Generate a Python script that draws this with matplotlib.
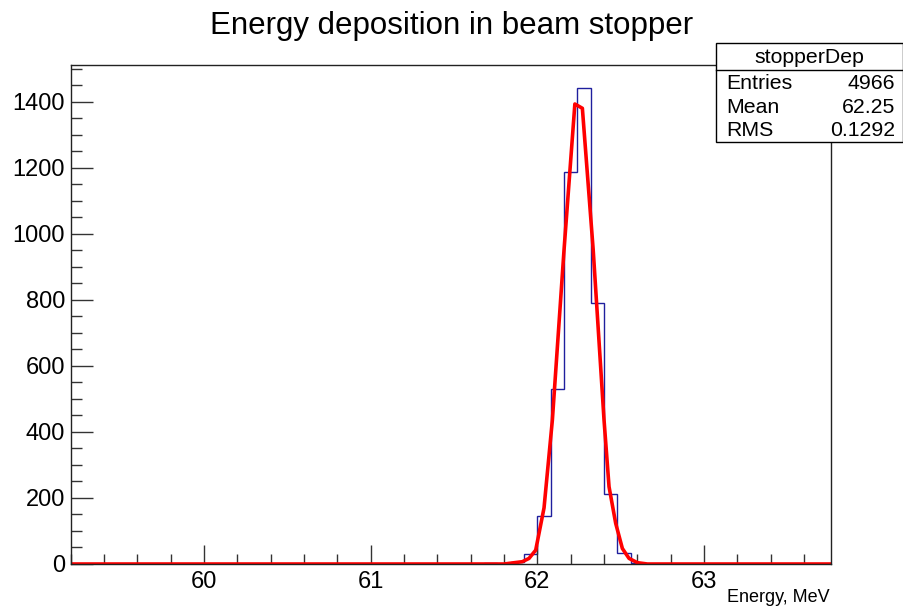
import matplotlib
matplotlib.use("Agg")
import matplotlib.pyplot as plt
import numpy as np

plt.rcParams['font.family'] = ['Liberation Sans', 'DejaVu Sans']

# histogram: 0.08 MeV bins from 59.2 to 63.76
x_lo, x_hi, bin_w = 59.2, 63.76, 0.08
# non-empty bins start at 61.68
first_bin = 61.68
counts_nonzero = [2, 0, 7, 29, 145, 529, 1188, 1440, 789, 212, 34, 3]

# red fit curve
fit_x = [59.2, 61.8, 61.91, 61.95, 61.99, 62.04, 62.09, 62.16, 62.225, 62.27,
         62.335, 62.40, 62.43, 62.47, 62.51, 62.55, 62.60, 62.66, 63.76]
fit_y = [0, 0, 7, 17, 42, 170, 436, 951, 1393, 1380,
         951, 436, 234, 123, 47, 17, 4, 0, 0]

hist_name = 'stopperDep'
stats_labels = ['Entries', 'Mean', 'RMS']
stats_values = ['4966', '62.25', '0.1292']

edges = np.round(np.arange(x_lo, x_hi + bin_w / 2, bin_w), 4)
counts = np.zeros(len(edges) - 1)
i0 = int(round((first_bin - x_lo) / bin_w))
counts[i0:i0 + len(counts_nonzero)] = counts_nonzero

W, H = 904, 607
fig = plt.figure(figsize=(W / 100, H / 100), dpi=100)
ax = fig.add_axes([70.7 / W, 1 - 564 / H, 760 / W, (564 - 64.7) / H])

ax.stairs(counts, edges, color='#1f1f9e', linewidth=1.0, baseline=0)
ax.plot(fit_x, fit_y, color='#ff0000', linewidth=2.6)

ax.set_xlim(x_lo, x_hi)
ax.set_ylim(0, 1512)
ax.set_xticks([60, 61, 62, 63])
ax.set_xticks(np.arange(59.2, 63.8, 0.2), minor=True)
ax.set_yticks(np.arange(0, 1401, 200))
ax.set_yticks(np.arange(0, 1512, 50), minor=True)
ax.tick_params(which='both', direction='in', top=False, right=False,
               labelsize=17, width=1, color='#333333')
ax.tick_params(axis='x', which='major', length=14, pad=5)
ax.tick_params(axis='x', which='minor', length=7)
ax.tick_params(axis='y', which='major', length=16, pad=4)
ax.tick_params(axis='y', which='minor', length=8)
for s in ax.spines.values():
    s.set_linewidth(1.0)
    s.set_color('#222222')

fig.text(0.5, 1 - 34 / H, 'Energy deposition in beam stopper',
         ha='center', va='baseline', fontsize=22.5)
fig.text(830 / W, 1 - 602 / H, 'Energy, MeV', ha='right', va='baseline',
         fontsize=13)

# stats box
bx0, bx1 = 716 / W, 903 / W
by_top, by_div, by_bot = 1 - 43 / H, 1 - 69.5 / H, 1 - 142 / H
fig.patches.append(plt.Rectangle((bx0, by_bot), bx1 - bx0, by_top - by_bot,
                                 transform=fig.transFigure, facecolor='white',
                                 edgecolor='black', linewidth=1.0, zorder=5))
fig.lines.append(plt.Line2D([bx0, bx1], [by_div, by_div],
                            transform=fig.transFigure, color='black',
                            linewidth=1.0, zorder=6))
fig.text((bx0 + bx1) / 2, 1 - 63 / H, hist_name, ha='center', va='baseline',
         fontsize=15.3, zorder=7)
for k, (lab, val) in enumerate(zip(stats_labels, stats_values)):
    yb = 1 - (89 + 23.5 * k) / H
    fig.text(726 / W, yb, lab, ha='left', va='baseline', fontsize=15.3, zorder=7)
    fig.text(895 / W, yb, val, ha='right', va='baseline', fontsize=15.3, zorder=7)

fig.savefig('out.png', dpi=100)
